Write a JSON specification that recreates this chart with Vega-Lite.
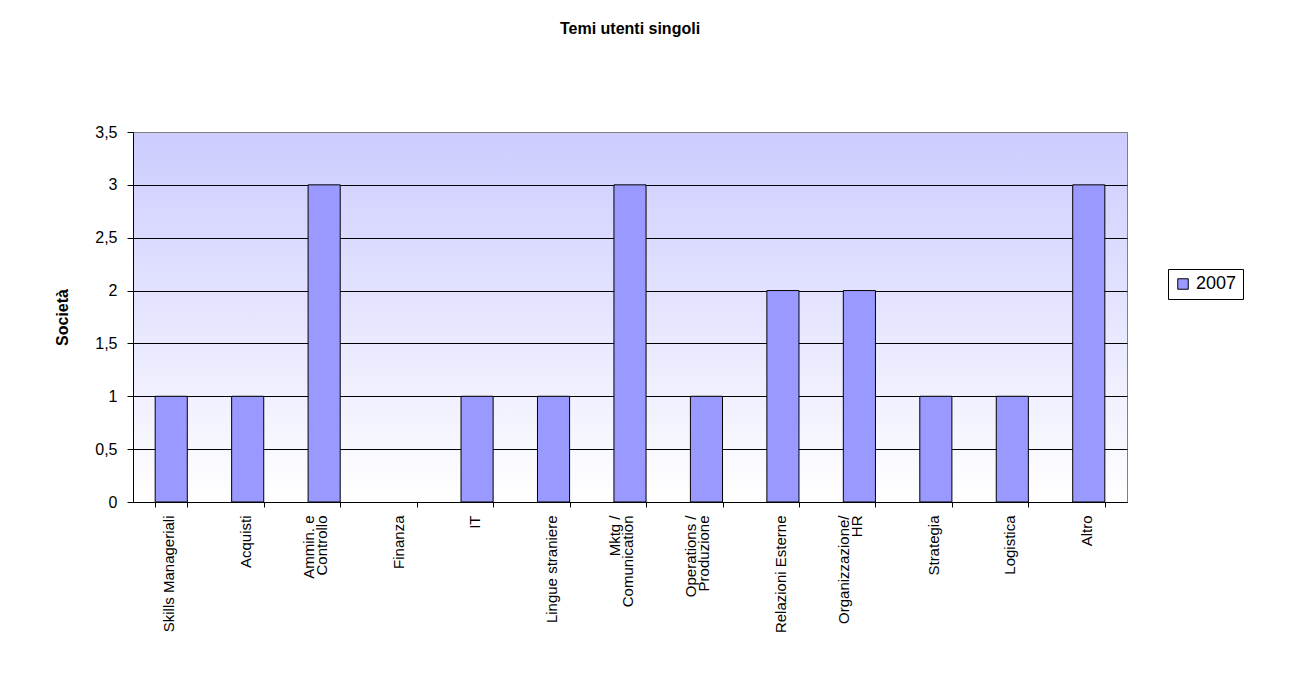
{
  "$schema": "https://vega.github.io/schema/vega-lite/v6.json",
  "autosize": "none",
  "width": 994,
  "height": 370,
  "padding": {"left": 133, "top": 132, "right": 168, "bottom": 191},
  "background": "white",
  "title": {
    "text": "Temi utenti singoli",
    "font": "Liberation Sans",
    "fontSize": 16,
    "fontWeight": "bold",
    "color": "black",
    "anchor": "middle",
    "offset": 87
  },
  "data": {
    "values": [
      {"tema": "Skills Manageriali", "anno": "2007", "societa": 1},
      {"tema": "Acquisti", "anno": "2007", "societa": 1},
      {"tema": "Ammin. e\nControllo", "anno": "2007", "societa": 3},
      {"tema": "Finanza", "anno": "2007", "societa": 0},
      {"tema": "IT", "anno": "2007", "societa": 1},
      {"tema": "Lingue straniere", "anno": "2007", "societa": 1},
      {"tema": "Mktg /\nComunication", "anno": "2007", "societa": 3},
      {"tema": "Operations /\nProduzione", "anno": "2007", "societa": 1},
      {"tema": "Relazioni Esterne", "anno": "2007", "societa": 2},
      {"tema": "Organizzazione/\nHR", "anno": "2007", "societa": 2},
      {"tema": "Strategia", "anno": "2007", "societa": 1},
      {"tema": "Logistica", "anno": "2007", "societa": 1},
      {"tema": "Altro", "anno": "2007", "societa": 3}
    ]
  },
  "mark": {"type": "bar", "stroke": "black", "strokeWidth": 1},
  "encoding": {
    "x": {
      "field": "tema",
      "type": "nominal",
      "sort": null,
      "scale": {"paddingInner": 0.58, "paddingOuter": 0.29},
      "axis": {
        "title": null,
        "labelAngle": -90,
        "labelAlign": "right",
        "labelBaseline": "middle",
        "labelExpr": "indexof(datum.label, '\\n') >= 0 ? [split(datum.label, '\\n')[0], '\u00a0', split(datum.label, '\\n')[1]] : ['\u00a0', datum.label]",
        "labelLineHeight": 13.5,
        "labelOffset": -16,
        "labelFont": "Liberation Sans",
        "labelFontSize": 15,
        "labelColor": "black",
        "labelPadding": 8,
        "labelLimit": 300,
        "tickBand": "extent",
        "tickSize": 5,
        "tickColor": "black",
        "domainColor": "black",
        "grid": false
      }
    },
    "y": {
      "field": "societa",
      "type": "quantitative",
      "scale": {"domain": [0, 3.5], "nice": false},
      "axis": {
        "title": "Società",
        "titleFont": "Liberation Sans",
        "titleFontSize": 16,
        "titleFontWeight": "bold",
        "titleColor": "black",
        "titlePadding": 24,
        "values": [0, 0.5, 1, 1.5, 2, 2.5, 3, 3.5],
        "labelExpr": "replace(format(datum.value, '.1~f'), '.', ',')",
        "labelFont": "Liberation Sans",
        "labelFontSize": 16,
        "labelColor": "black",
        "labelPadding": 10,
        "tickSize": 6,
        "tickColor": "black",
        "domainColor": "black",
        "grid": true,
        "gridColor": {"condition": {"test": "datum.value === 3.5", "value": "#808080"}, "value": "black"},
        "gridOpacity": 1,
        "gridWidth": 1
      }
    },
    "strokeOpacity": {
      "condition": {"test": "datum.societa === 0", "value": 0},
      "value": 1
    },
    "color": {
      "field": "anno",
      "type": "nominal",
      "scale": {"range": ["#9999ff"]},
      "legend": {
        "title": null,
        "orient": "none",
        "legendX": 1035,
        "legendY": 137,
        "symbolType": "square",
        "symbolSize": 110,
        "symbolStrokeColor": "black",
        "symbolStrokeWidth": 1,
        "labelFont": "Liberation Sans",
        "labelFontSize": 18,
        "labelColor": "black",
        "strokeColor": "black",
        "fillColor": "white",
        "padding": 6
      }
    }
  },
  "config": {
    "view": {
      "stroke": "#808080",
      "fill": {
        "gradient": "linear",
        "x1": 0, "y1": 0, "x2": 0, "y2": 1,
        "stops": [
          {"offset": 0, "color": "#ccccff"},
          {"offset": 1, "color": "#ffffff"}
        ]
      }
    }
  }
}
